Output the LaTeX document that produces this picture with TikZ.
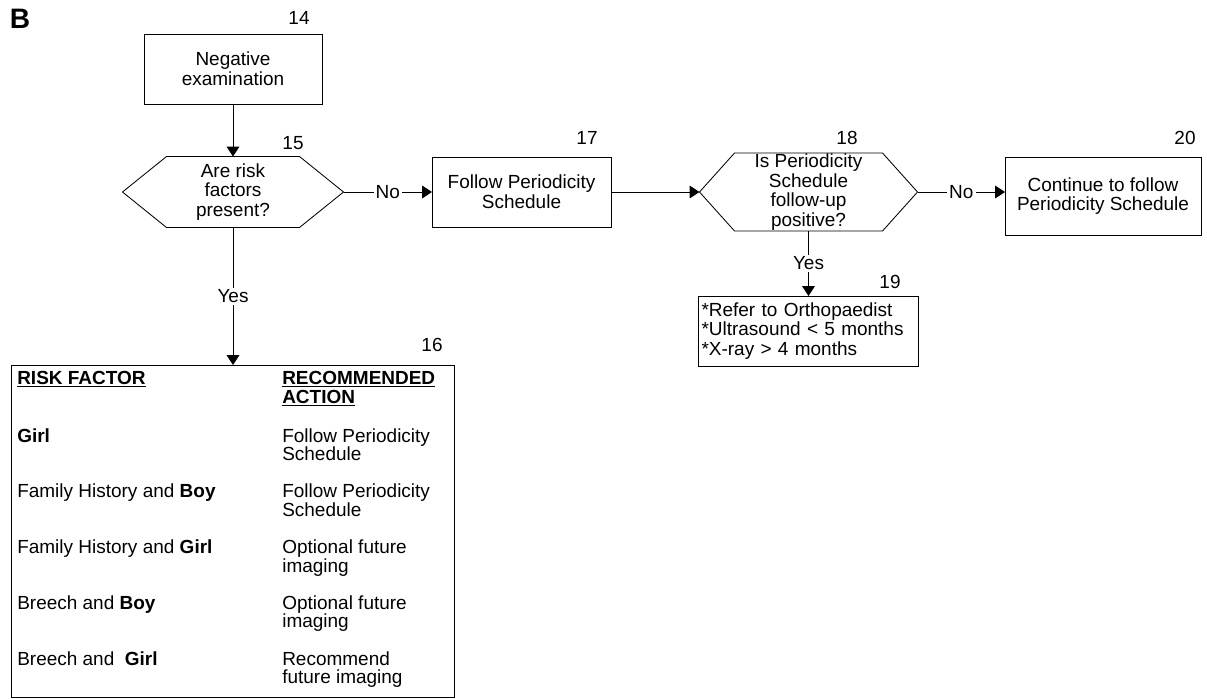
\documentclass[tikz,border=0pt]{standalone}
\usepackage{fontspec}
\setmainfont{Liberation Sans}
\usetikzlibrary{arrows.meta}
\newcommand{\px}{0.025cm}
% hexagon outline around a plain node
\newcommand{\hexline}[2]{%
  \draw[line width=0.6pt] (#1.west) -- ([xshift=#2]#1.north west) -- ([xshift=-#2]#1.north east)
    -- (#1.east) -- ([xshift=-#2]#1.south east) -- ([xshift=#2]#1.south west) -- cycle;}

\begin{document}
\begin{tikzpicture}[x=\px,y=-\px,
    every node/.style={font=\fontsize{13.5}{14}\selectfont},
    box/.style={draw,line width=0.6pt,align=center,inner sep=0pt,outer sep=0pt},
    hex/.style={align=center,inner sep=0pt,outer sep=0pt},
    arr/.style={-{Triangle[length=7pt,width=9pt]},line width=0.6pt},
    lbl/.style={fill=white,inner sep=1.5pt},
    cell/.style={anchor=north west,align=left,inner sep=0pt,font=\fontsize{13.5}{13.2}\selectfont}]
  \useasboundingbox (0,0) rectangle (1207,698);
  \node (fig) at (20,19) {\fontsize{20}{20}\selectfont\bfseries B};

  % flow
  \node[box,minimum width=178*\px,minimum height=70*\px] (neg) at (233,69) {Negative\\examination};
  \node[hex,minimum width=221*\px,minimum height=71*\px] (risk) at (233,192) {Are risk\\factors\\present?};
  \hexline{risk}{1.1cm}
  \node[box,minimum width=179*\px,minimum height=70*\px] (follow) at (521.5,192) {Follow Periodicity\\Schedule};
  \node[hex,minimum width=218*\px,minimum height=78*\px] (check) at (808.5,192) {Is Periodicity\\Schedule\\follow-up\\positive?};
  \hexline{check}{0.875cm}
  \node[box,minimum width=196*\px,minimum height=78*\px] (cont) at (1103,196) {Continue to follow\\Periodicity Schedule};
  \node[box,minimum width=220*\px,minimum height=70*\px,text width=214*\px,align=left] (refer) at (808.5,331)
    {*Refer to Orthopaedist\\{}*Ultrasound < 5 months\\{}*X-ray > 4 months};
  \node[box,minimum width=443*\px,minimum height=332*\px] (table) at (233,531) {};

  % numbers
  \node (n14) at (299,18) {14};
  \node (n15) at (293,143) {15};
  \node (n16) at (432,345) {16};
  \node (n17) at (587,138) {17};
  \node (n18) at (847,138) {18};
  \node (n19) at (890,282) {19};
  \node (n20) at (1185,138) {20};

  % connectors
  \draw[arr] (neg) -- (risk);
  \draw[arr] (risk) -- node[lbl]{No} (follow);
  \draw[arr] (follow) -- (check);
  \draw[arr] (check.east) -- node[lbl]{No} (check.east -| cont.west);
  \draw[arr] (risk) -- node[lbl]{Yes} (table);
  \draw[arr] (check) -- node[lbl]{Yes} (refer);

  % table
  \node[cell] (hf) at (17,371) {\textbf{\underline{RISK FACTOR}}};
  \node[cell] (ha) at (282,371) {\textbf{\underline{RECOMMENDED}}\\\textbf{\underline{ACTION}}};
  \foreach \f/\a [count=\i from 0] in {%
      {\textbf{Girl}}/{Follow Periodicity\\Schedule},
      {Family History and \textbf{Boy}}/{Follow Periodicity\\Schedule},
      {Family History and \textbf{Girl}}/{Optional future\\imaging},
      {Breech and \textbf{Boy}}/{Optional future\\imaging},
      {Breech and \ \textbf{Girl}}/{Recommend\\future imaging}}{
    \node[cell] (f\i) at (17,{428+55.75*\i}) {\f};
    \node[cell] (a\i) at (282,{428+55.75*\i}) {\a};
  }
\end{tikzpicture}
\end{document}
